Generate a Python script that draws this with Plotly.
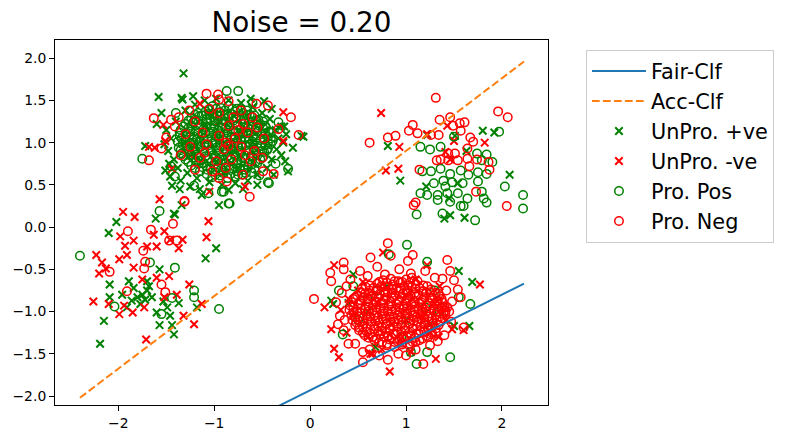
import plotly.graph_objects as go

# decision boundaries (end points)
fair_x = [-2.40, 2.23]
fair_y = [-3.29, -0.67]
acc_x = [-2.40, 2.23]
acc_y = [-2.02, 1.96]

# UnPro. +ve  (green x)
unpro_pos = [
    # left cluster
    (-2.02, 0.06), (-2.10, -0.07), (-1.41, 0.15), (-1.61, 0.10), (-0.95, 0.26), (-0.98, -0.25),
    (-1.09, -0.37), (-1.57, -0.50), (-2.09, -0.68), (-1.89, -0.64), (-1.84, -0.72), (-1.75, -0.80),
    (-1.80, -0.83), (-1.70, -0.75), (-1.65, -0.83), (-2.09, -0.83), (-1.91, -0.95), (-1.60, -1.01),
    (-1.46, -1.05), (-1.57, -1.16), (-1.44, -1.16), (-1.42, -1.27), (-2.15, -1.11), (-2.19, -1.38),
    (-1.37, -0.90), (-1.18, -0.95), (-1.77, -0.91), (-1.86, -0.87), (-1.96, -0.80), (-1.49, -0.95),
    (-1.70, -0.64), (-1.72, -0.86), (-1.68, -0.70), (-1.53, -0.88),
    # top-left cluster
    (-1.40, 1.25), (-1.45, 1.05), (-1.48, 0.90), (-1.42, 0.80), (-1.38, 0.70), (-1.30, 1.38),
    (-1.20, 1.45), (-1.10, 1.50), (-0.98, 1.52), (-0.85, 1.50), (-0.72, 1.47), (-0.60, 1.42),
    (-0.50, 1.35), (-0.42, 1.28), (-0.36, 1.15), (-0.33, 1.05), (-0.35, 0.92), (-0.40, 0.80),
    (-0.45, 0.70), (-0.55, 0.62), (-0.65, 0.55), (-0.78, 0.52), (-0.92, 0.50), (-1.05, 0.53),
    (-1.18, 0.58), (-1.28, 0.64), (-1.50, 1.15), (-1.35, 0.55), (-1.25, 0.48), (-0.70, 0.45),
    (-0.30, 0.85), (-0.28, 1.00), (-0.25, 1.10), (-1.10, 1.20), (-0.95, 1.05), (-0.80, 0.90),
    (-0.70, 1.10), (-1.20, 0.95), (-1.00, 0.80), (-0.85, 1.25), (-0.60, 1.00), (-1.30, 1.00),
    (-0.75, 0.70), (-1.05, 1.35), (-0.90, 0.65), (-1.32, 1.82), (-1.58, 1.54), (-1.34, 1.53),
    (-0.48, 1.49), (-0.18, 0.94), (-0.07, 1.07), (-0.27, 1.19), (-1.51, 0.67), (-1.44, 0.49),
    (-1.13, 0.38), (-1.42, 0.16), (-0.23, 0.66), (-1.72, 0.96), (-1.60, 1.22), (-1.33, 1.51),
    (-0.30, 1.19), (-0.09, 1.08), (-1.34, 0.26), (-1.55, 1.35), (-1.46, 0.60), (-1.52, 0.98),
    (-1.47, 0.75), (-1.36, 0.45), (-1.15, 0.45), (-0.85, 0.44), (-0.55, 0.50), (-0.38, 0.62),
    (-0.26, 0.78), (-0.40, 1.40), (-0.62, 1.52), (-1.22, 1.55),
    # top-right cluster
    (0.81, 0.96), (0.94, 0.55), (1.80, 1.14), (1.22, 1.09), (1.51, 1.08), (1.21, 0.48),
    (1.45, 0.34), (1.46, 0.14), (1.61, 0.11), (2.08, 0.62), (1.63, 0.90), (1.54, 0.52),
    (1.92, 1.12), (1.40, 0.10),
    # bottom-right cluster
    (1.55, -0.52), (1.69, -0.65), (1.66, -1.17), (1.50, -1.17), (0.22, -0.87), (0.24, -0.91),
    (0.68, -1.42), (0.45, -0.56), (0.60, -1.00), (1.00, -1.10), (0.80, -0.70), (1.25, -1.15),
    (0.40, -0.90),
]

# UnPro. -ve  (red x)
unpro_neg = [
    # left cluster
    (-1.57, 0.33), (-1.95, 0.18), (-1.83, 0.12), (-1.06, 0.07), (-1.98, -0.11), (-1.84, -0.16),
    (-1.93, -0.22), (-1.91, -0.33), (-1.99, -0.38), (-2.23, -0.33), (-2.17, -0.42), (-2.13, -0.49),
    (-2.20, -0.55), (-1.84, -0.48), (-1.70, -0.23), (-1.60, -0.23), (-1.52, -0.05), (-1.46, -0.15),
    (-1.37, -0.25), (-1.33, -0.15), (-1.63, -0.09), (-1.08, -0.12), (-1.75, -0.62), (-1.60, -0.60),
    (-1.47, -0.58), (-1.26, -0.68), (-1.39, -0.80), (-2.26, -0.88), (-2.10, -0.91), (-1.99, -1.03),
    (-1.85, -1.01), (-1.73, -0.95), (-1.94, -0.93), (-1.32, -1.05), (-1.21, -1.15), (-1.71, -1.33),
    (-1.13, -0.91), (-1.52, -0.83),
    # top-left cluster
    (-1.68, 0.95), (-1.51, 1.02), (-1.05, 0.42), (-0.28, 1.36), (-0.28, 1.02), (-1.15, 1.46),
    (-1.44, 0.69), (-0.68, 0.48), (-1.62, 0.94), (-1.53, 1.21), (-0.95, 1.25), (-0.60, 0.95),
    (-1.25, 0.85),
    # top-right cluster
    (0.74, 1.35), (0.93, 0.95), (0.79, 0.67), (0.92, 0.69), (1.22, 1.10), (1.43, 1.20),
    (1.50, 1.02), (1.82, 1.00), (1.41, 0.89), (1.46, 0.80),
    # bottom-right cluster
    (0.25, -0.45), (0.15, -0.95), (0.22, -1.21), (0.25, -1.44), (0.30, -1.54), (1.77, -0.68),
    (0.76, -0.30), (1.22, -0.45), (0.83, -1.71), (1.60, -1.22), (1.31, -1.56), (0.63, -1.50),
    (1.48, -1.21), (1.34, -1.30), (0.50, -0.75), (0.60, -1.30), (0.70, -0.90), (0.85, -1.15),
    (1.00, -0.80), (1.15, -1.05), (1.30, -0.90), (1.25, -1.25), (0.45, -1.05), (0.55, -0.65),
    (0.95, -1.38), (1.10, -0.62), (0.75, -1.45), (1.35, -0.70), (0.40, -0.85), (0.32, -0.98),
    (0.38, -1.25), (1.42, -1.10), (0.65, -1.50), (1.05, -1.48),
]

# Pro. Pos  (green circles)
pro_pos = [
    # left cluster
    (-2.40, -0.34), (-1.57, 0.19), (-0.84, 0.28), (-1.41, -0.48), (-1.21, -0.75), (-1.21, -0.83),
    (-0.95, -0.97), (-2.04, -0.94), (-1.44, -0.84), (-1.55, -1.03), (-1.67, -0.42),
    # top-left cluster
    (-1.02, 1.43), (-0.93, 1.41), (-0.85, 1.44), (-0.76, 1.40),
    (-1.17, 1.35), (-1.09, 1.37), (-1.01, 1.34), (-0.94, 1.36), (-0.86, 1.33), (-0.78, 1.37),
    (-0.70, 1.35), (-0.63, 1.33),
    (-1.24, 1.29), (-1.16, 1.31), (-1.08, 1.28), (-1.00, 1.30), (-0.92, 1.27), (-0.85, 1.31),
    (-0.77, 1.29), (-0.69, 1.28), (-0.61, 1.31), (-0.54, 1.27),
    (-1.30, 1.22), (-1.22, 1.24), (-1.15, 1.21), (-1.07, 1.23), (-0.99, 1.25), (-0.91, 1.22),
    (-0.84, 1.24), (-0.76, 1.21), (-0.68, 1.23), (-0.60, 1.25), (-0.52, 1.22), (-0.47, 1.20),
    (-1.35, 1.15), (-1.27, 1.17), (-1.19, 1.14), (-1.11, 1.16), (-1.03, 1.18), (-0.96, 1.15),
    (-0.88, 1.17), (-0.80, 1.14), (-0.72, 1.16), (-0.65, 1.18), (-0.57, 1.15), (-0.49, 1.17),
    (-0.43, 1.13),
    (-1.36, 1.08), (-1.29, 1.10), (-1.21, 1.07), (-1.13, 1.09), (-1.05, 1.11), (-0.98, 1.08),
    (-0.90, 1.10), (-0.82, 1.07), (-0.74, 1.09), (-0.66, 1.11), (-0.59, 1.08), (-0.51, 1.10),
    (-0.44, 1.07),
    (-1.38, 1.01), (-1.30, 1.03), (-1.22, 1.00), (-1.15, 1.02), (-1.07, 1.04), (-0.99, 1.01),
    (-0.91, 1.03), (-0.83, 1.00), (-0.76, 1.02), (-0.68, 1.04), (-0.60, 1.01), (-0.52, 1.03),
    (-0.44, 1.00), (-0.39, 1.02),
    (-1.37, 0.94), (-1.29, 0.96), (-1.21, 0.93), (-1.14, 0.95), (-1.06, 0.97), (-0.98, 0.94),
    (-0.90, 0.96), (-0.83, 0.93), (-0.75, 0.95), (-0.67, 0.97), (-0.59, 0.94), (-0.51, 0.96),
    (-0.44, 0.93),
    (-1.34, 0.87), (-1.26, 0.89), (-1.18, 0.86), (-1.10, 0.88), (-1.03, 0.90), (-0.95, 0.87),
    (-0.87, 0.89), (-0.79, 0.86), (-0.72, 0.88), (-0.64, 0.90), (-0.56, 0.87), (-0.48, 0.89),
    (-1.30, 0.80), (-1.22, 0.82), (-1.14, 0.79), (-1.07, 0.81), (-0.99, 0.83), (-0.91, 0.80),
    (-0.83, 0.82), (-0.76, 0.79), (-0.68, 0.81), (-0.60, 0.83), (-0.52, 0.80),
    (-1.24, 0.73), (-1.16, 0.75), (-1.08, 0.72), (-1.00, 0.74), (-0.93, 0.76), (-0.85, 0.73),
    (-0.77, 0.75), (-0.69, 0.72), (-0.61, 0.74), (-0.55, 0.76),
    (-1.15, 0.66), (-1.07, 0.68), (-0.99, 0.65), (-0.91, 0.67), (-0.84, 0.69), (-0.76, 0.66),
    (-0.68, 0.68), (-0.61, 0.65),
    (-1.02, 0.59), (-0.94, 0.61), (-0.86, 0.58), (-0.78, 0.60), (-0.71, 0.62),
    (-1.06, 1.39), (-0.98, 1.40), (-0.89, 1.38), (-0.81, 1.40), (-0.72, 1.39), (-0.66, 1.38),
    (-1.20, 1.33), (-1.13, 1.32), (-1.05, 1.34), (-0.97, 1.32), (-0.89, 1.33), (-0.82, 1.34),
    (-0.74, 1.32), (-0.66, 1.33), (-0.58, 1.32),
    (-1.27, 1.26), (-1.20, 1.27), (-1.12, 1.25), (-1.04, 1.26), (-0.96, 1.27), (-0.88, 1.25),
    (-0.80, 1.26), (-0.72, 1.27), (-0.64, 1.25), (-0.56, 1.26), (-0.49, 1.25),
    (-1.32, 1.19), (-1.24, 1.20), (-1.16, 1.18), (-1.08, 1.19), (-1.00, 1.20), (-0.92, 1.18),
    (-0.84, 1.19), (-0.76, 1.20), (-0.68, 1.18), (-0.61, 1.19), (-0.53, 1.20), (-0.46, 1.18),
    (-1.36, 1.12), (-1.25, 1.13), (-1.17, 1.11), (-1.09, 1.12), (-1.01, 1.13), (-0.94, 1.11),
    (-0.86, 1.12), (-0.78, 1.13), (-0.70, 1.11), (-0.62, 1.12), (-0.55, 1.13), (-0.47, 1.11),
    (-0.41, 1.12),
    (-1.34, 1.05), (-1.26, 1.06), (-1.18, 1.04), (-1.11, 1.05), (-1.03, 1.06), (-0.95, 1.04),
    (-0.87, 1.05), (-0.79, 1.06), (-0.72, 1.04), (-0.64, 1.05), (-0.56, 1.06), (-0.48, 1.04),
    (-0.41, 1.05),
    (-1.33, 0.98), (-1.25, 0.99), (-1.17, 0.97), (-1.10, 0.98), (-1.02, 0.99), (-0.94, 0.97),
    (-0.86, 0.98), (-0.79, 0.99), (-0.71, 0.97), (-0.63, 0.98), (-0.55, 0.99), (-0.47, 0.97),
    (-0.41, 0.98),
    (-1.35, 0.91), (-1.28, 0.92), (-1.20, 0.90), (-1.12, 0.91), (-1.04, 0.92), (-0.97, 0.90),
    (-0.89, 0.91), (-0.81, 0.92), (-0.73, 0.90), (-0.66, 0.91), (-0.58, 0.92), (-0.50, 0.90),
    (-0.45, 0.91),
    (-1.32, 0.84), (-1.25, 0.85), (-1.17, 0.83), (-1.09, 0.84), (-1.01, 0.85), (-0.93, 0.83),
    (-0.86, 0.84), (-0.78, 0.85), (-0.70, 0.83), (-0.62, 0.84), (-0.55, 0.85), (-0.49, 0.83),
    (-1.27, 0.77), (-1.19, 0.78), (-1.11, 0.76), (-1.03, 0.77), (-0.96, 0.78), (-0.88, 0.76),
    (-0.80, 0.77), (-0.72, 0.78), (-0.64, 0.76), (-0.57, 0.77),
    (-1.20, 0.70), (-1.12, 0.71), (-1.04, 0.69), (-0.96, 0.70), (-0.88, 0.71), (-0.80, 0.69),
    (-0.73, 0.70), (-0.65, 0.71), (-0.58, 0.69),
    (-1.08, 0.63), (-0.99, 0.62), (-0.91, 0.64), (-0.83, 0.63), (-0.75, 0.62), (-0.67, 0.64),
    (-1.75, 0.81), (-0.75, 1.61), (-0.87, 1.61), (-1.06, 0.40), (-0.90, 0.42), (-0.85, 0.28),
    (-0.43, 0.52), (-0.53, 0.61), (-1.21, 0.49), (-1.41, 0.60), (-0.33, 1.24), (-0.23, 0.69),
    (-0.44, 0.53), (-0.92, 0.42), (-1.40, 1.35), (-1.45, 0.72), (-0.36, 0.75), (-0.60, 1.47),
    # top-right cluster
    (1.15, 0.95), (1.25, 0.92), (1.36, 0.95), (1.50, 1.07), (1.97, 1.13), (1.84, 0.86),
    (1.79, 0.79), (1.90, 0.77), (1.17, 0.66), (1.26, 0.66), (1.36, 0.69), (1.46, 0.63),
    (1.57, 0.67), (1.65, 0.62), (1.75, 0.65), (1.84, 0.63), (1.29, 0.52), (1.39, 0.55),
    (1.48, 0.53), (1.59, 0.52), (1.75, 0.54), (1.15, 0.40), (1.22, 0.38), (1.33, 0.38),
    (1.43, 0.40), (1.54, 0.40), (1.64, 0.34), (1.81, 0.34), (1.84, 0.29), (1.33, 0.32),
    (1.46, 0.30), (1.57, 0.25), (1.60, 0.25), (2.03, 0.48), (2.22, 0.38), (2.22, 0.22),
    (1.38, 0.16), (1.11, 0.15), (1.72, 0.08), (1.74, 0.87), (1.41, 0.48), (1.79, 0.42),
    # bottom-right cluster
    (1.01, -0.21), (0.82, -0.32), (1.22, -0.41), (1.46, -1.54), (1.11, -1.62), (1.67, -0.91),
    (1.55, -0.83), (0.34, -1.27), (1.05, -1.48), (0.30, -0.75), (1.22, -1.48), (0.50, -1.10),
    (0.70, -0.75), (1.20, -0.95), (0.95, -1.30), (0.60, -0.85), (1.35, -1.00), (0.45, -0.70),
    (1.30, -0.75),
]

# Pro. Neg  (red circles)
pro_neg = [
    # left cluster
    (-1.90, -0.05), (-1.43, 0.04), (-1.31, 0.30), (-1.66, -0.03), (-1.74, -0.28), (-1.72, -0.41),
    (-1.73, -0.49), (-2.09, -0.53), (-1.39, -0.16), (-1.91, -0.76), (-1.51, -0.77), (-1.55, -0.68),
    (-1.47, -0.16),
    # top-left cluster
    (-1.05, 1.40), (-0.95, 1.35), (-0.72, 1.38), (-0.60, 1.30), (-1.20, 1.25), (-0.85, 1.20),
    (-0.70, 1.22), (-0.55, 1.18), (-1.30, 1.10), (-1.12, 1.12), (-0.95, 1.08), (-0.78, 1.05),
    (-0.65, 1.12), (-0.48, 1.05), (-1.25, 0.95), (-1.08, 0.98), (-0.90, 0.92), (-0.72, 0.95),
    (-0.58, 0.90), (-1.35, 0.85), (-1.15, 0.82), (-0.98, 0.78), (-0.82, 0.80), (-0.62, 0.78),
    (-0.50, 0.82), (-1.20, 0.68), (-1.02, 0.66), (-0.88, 0.70), (-0.70, 0.62), (-0.95, 0.58),
    (-1.10, 0.88), (-0.80, 1.30), (-0.68, 0.85), (-0.75, 1.15), (-0.88, 1.00), (-0.85, 0.96),
    (-1.63, 1.29), (-1.08, 1.58), (-0.96, 1.57), (-0.95, 1.51), (-1.26, 1.38), (-1.37, 1.30),
    (-1.41, 1.19), (-0.44, 1.44), (-0.20, 1.30), (-0.12, 1.09), (-0.85, 1.49), (-0.56, 1.46),
    (-0.33, 1.16), (-0.63, 0.36), (-0.38, 0.63), (-0.49, 0.66), (-0.87, 0.54), (-1.31, 0.31),
    (-1.68, 0.79), (-1.55, 0.93), (-1.50, 1.06), (-1.45, 1.27),
    # top-right cluster
    (1.31, 1.53), (0.62, 1.00), (0.81, 1.06), (0.89, 1.08), (1.03, 1.14), (1.07, 1.21),
    (1.12, 1.11), (1.26, 1.09), (1.34, 1.09), (1.35, 1.27), (1.46, 1.30), (1.49, 1.20),
    (1.56, 1.23), (1.61, 1.24), (1.57, 1.14), (1.96, 1.37), (2.06, 1.30), (1.67, 1.06),
    (1.70, 1.01), (1.64, 0.93), (1.44, 0.87), (1.51, 0.87), (1.32, 0.79), (1.36, 0.80),
    (1.44, 0.79), (1.54, 0.79), (1.66, 0.72), (1.74, 0.80), (1.86, 0.77), (1.87, 0.68),
    (1.14, 0.68), (1.73, 0.42), (1.10, 0.29), (1.08, 0.26), (2.05, 0.25), (1.64, 0.81),
    # bottom-right cluster, outer part
    (0.81, -0.19), (1.07, -0.33), (1.43, -0.39), (1.46, -0.52), (1.38, -0.61), (1.50, -0.63),
    (0.04, -0.85), (0.21, -0.54), (0.22, -0.64), (0.35, -0.42), (0.63, -0.36), (0.84, -0.34),
    (1.18, -1.62), (1.60, -1.19), (1.57, -0.83), (0.29, -1.15), (0.40, -1.38), (0.55, -1.60),
    (0.81, -1.57), (1.54, -0.74), (1.43, -0.95), (0.27, -0.89), (0.35, -0.50), (1.02, -0.40),
    (0.52, -0.52), (0.70, -0.47), (0.93, -0.50), (1.20, -0.52), (1.30, -0.60), (0.42, -0.62),
    (0.33, -0.78), (0.31, -1.05), (0.35, -1.22), (0.47, -1.38), (0.62, -1.45), (0.72, -1.52),
    (0.92, -1.50), (1.10, -1.45), (1.25, -1.40), (1.40, -1.28), (1.47, -1.12), (1.48, -0.88),
    (0.60, -0.58), (0.78, -0.56), (1.05, -0.55), (0.38, -0.70), (0.36, -1.10), (0.55, -1.48),
    (1.00, -1.52), (1.33, -1.35), (1.45, -1.00), (1.42, -0.75),
    # bottom-right cluster, dense core
    (0.76, -0.63), (0.84, -0.61), (0.92, -0.64), (1.00, -0.62), (1.06, -0.60),
    (0.62, -0.69), (0.70, -0.67), (0.78, -0.70), (0.86, -0.68), (0.94, -0.66), (1.02, -0.69),
    (1.10, -0.67), (1.18, -0.69),
    (0.54, -0.73), (0.62, -0.75), (0.70, -0.73), (0.78, -0.76), (0.86, -0.74), (0.94, -0.72),
    (1.02, -0.75), (1.10, -0.73), (1.18, -0.76), (1.26, -0.74),
    (0.49, -0.81), (0.57, -0.79), (0.65, -0.82), (0.73, -0.80), (0.81, -0.78), (0.89, -0.81),
    (0.97, -0.79), (1.05, -0.82), (1.13, -0.80), (1.21, -0.78), (1.29, -0.81), (1.34, -0.79),
    (0.45, -0.85), (0.53, -0.87), (0.61, -0.85), (0.69, -0.88), (0.77, -0.86), (0.85, -0.84),
    (0.93, -0.87), (1.01, -0.85), (1.09, -0.88), (1.17, -0.86), (1.25, -0.84), (1.33, -0.87),
    (1.37, -0.85),
    (0.42, -0.93), (0.50, -0.91), (0.58, -0.94), (0.66, -0.92), (0.74, -0.90), (0.82, -0.93),
    (0.90, -0.91), (0.98, -0.94), (1.06, -0.92), (1.14, -0.90), (1.22, -0.93), (1.30, -0.91),
    (1.38, -0.94),
    (0.41, -0.98), (0.49, -1.00), (0.57, -0.97), (0.65, -0.99), (0.73, -0.97), (0.81, -1.00),
    (0.89, -0.98), (0.97, -0.96), (1.05, -0.99), (1.13, -0.97), (1.21, -1.00), (1.29, -0.98),
    (1.37, -0.96), (1.41, -0.99),
    (0.43, -1.04), (0.51, -1.06), (0.59, -1.03), (0.67, -1.05), (0.75, -1.03), (0.83, -1.06),
    (0.91, -1.04), (0.99, -1.02), (1.07, -1.05), (1.15, -1.03), (1.23, -1.06), (1.31, -1.04),
    (1.39, -1.02),
    (0.44, -1.10), (0.52, -1.12), (0.60, -1.09), (0.68, -1.11), (0.76, -1.09), (0.84, -1.12),
    (0.92, -1.10), (1.00, -1.08), (1.08, -1.11), (1.16, -1.09), (1.24, -1.12), (1.32, -1.10),
    (1.38, -1.08),
    (0.47, -1.16), (0.55, -1.18), (0.63, -1.15), (0.71, -1.17), (0.79, -1.15), (0.87, -1.18),
    (0.95, -1.16), (1.03, -1.14), (1.11, -1.17), (1.19, -1.15), (1.27, -1.18), (1.34, -1.16),
    (0.51, -1.22), (0.59, -1.24), (0.67, -1.21), (0.75, -1.23), (0.83, -1.21), (0.91, -1.24),
    (0.99, -1.22), (1.07, -1.20), (1.15, -1.23), (1.23, -1.21), (1.31, -1.24),
    (0.57, -1.28), (0.65, -1.30), (0.73, -1.27), (0.81, -1.29), (0.89, -1.27), (0.97, -1.30),
    (1.05, -1.28), (1.13, -1.26), (1.21, -1.29), (1.26, -1.27),
    (0.67, -1.34), (0.75, -1.36), (0.83, -1.33), (0.91, -1.35), (0.99, -1.33), (1.07, -1.36),
    (1.14, -1.34),
    (0.80, -1.40), (0.88, -1.42), (0.96, -1.39), (1.04, -1.41),
    (0.72, -0.65), (0.80, -0.66), (0.88, -0.64), (0.96, -0.65), (1.04, -0.66), (1.12, -0.64),
    (0.58, -0.71), (0.66, -0.72), (0.74, -0.70), (0.82, -0.71), (0.90, -0.72), (0.98, -0.70),
    (1.06, -0.71), (1.14, -0.72), (1.22, -0.70),
    (0.53, -0.77), (0.61, -0.78), (0.69, -0.76), (0.77, -0.77), (0.85, -0.78), (0.93, -0.76),
    (1.01, -0.77), (1.09, -0.78), (1.17, -0.76), (1.25, -0.77), (1.31, -0.78),
    (0.47, -0.83), (0.55, -0.84), (0.63, -0.82), (0.71, -0.83), (0.79, -0.84), (0.87, -0.82),
    (0.95, -0.83), (1.03, -0.84), (1.11, -0.82), (1.19, -0.83), (1.27, -0.84), (1.35, -0.82),
    (0.44, -0.89), (0.52, -0.90), (0.60, -0.88), (0.68, -0.89), (0.76, -0.90), (0.84, -0.88),
    (0.92, -0.89), (1.00, -0.90), (1.08, -0.88), (1.16, -0.89), (1.24, -0.90), (1.32, -0.88),
    (1.38, -0.89),
    (0.45, -0.95), (0.53, -0.96), (0.61, -0.94), (0.69, -0.95), (0.77, -0.96), (0.85, -0.94),
    (0.93, -0.95), (1.01, -0.96), (1.09, -0.94), (1.17, -0.95), (1.25, -0.96), (1.33, -0.94),
    (1.40, -0.95),
    (0.45, -1.01), (0.53, -1.02), (0.61, -1.00), (0.69, -1.01), (0.77, -1.02), (0.85, -1.00),
    (0.93, -1.01), (1.01, -1.02), (1.09, -1.00), (1.17, -1.01), (1.25, -1.02), (1.33, -1.00),
    (1.41, -1.01),
    (0.47, -1.07), (0.55, -1.08), (0.63, -1.06), (0.71, -1.07), (0.79, -1.08), (0.87, -1.06),
    (0.95, -1.07), (1.03, -1.08), (1.11, -1.06), (1.19, -1.07), (1.27, -1.08), (1.35, -1.06),
    (0.48, -1.13), (0.56, -1.14), (0.64, -1.12), (0.72, -1.13), (0.80, -1.14), (0.88, -1.12),
    (0.96, -1.13), (1.04, -1.14), (1.12, -1.12), (1.20, -1.13), (1.28, -1.14), (1.36, -1.12),
    (0.51, -1.19), (0.59, -1.20), (0.67, -1.18), (0.75, -1.19), (0.83, -1.20), (0.91, -1.18),
    (0.99, -1.19), (1.07, -1.20), (1.15, -1.18), (1.23, -1.19), (1.31, -1.20),
    (0.55, -1.25), (0.63, -1.26), (0.71, -1.24), (0.79, -1.25), (0.87, -1.26), (0.95, -1.24),
    (1.03, -1.25), (1.11, -1.26), (1.19, -1.24), (1.27, -1.25),
    (0.61, -1.31), (0.69, -1.32), (0.77, -1.30), (0.85, -1.31), (0.93, -1.32), (1.01, -1.30),
    (1.09, -1.31), (1.17, -1.32), (1.23, -1.30),
    (0.72, -1.37), (0.80, -1.38), (0.88, -1.36), (0.96, -1.37), (1.04, -1.38), (1.10, -1.36),
]

x_tickvals = [-2, -1, 0, 1, 2]
x_ticktext = ["\u22122", "\u22121", "0", "1", "2"]
y_tickvals = [-2.0, -1.5, -1.0, -0.5, 0.0, 0.5, 1.0, 1.5, 2.0]
y_ticktext = ["\u22122.0", "\u22121.5", "\u22121.0", "\u22120.5", "0.0", "0.5", "1.0", "1.5", "2.0"]

font = "DejaVu Sans"


def cols(pts):
    return [p[0] for p in pts], [p[1] for p in pts]


fig = go.Figure()

# scatter first so the two lines are drawn on top, legend order fixed with legendrank
for name, pts, sym, col, lw, size, rank in [
    ("UnPro. +ve", unpro_pos, "x-thin", "green", 2.0, 7.5, 3),
    ("UnPro. -ve", unpro_neg, "x-thin", "red", 2.0, 7.5, 4),
    ("Pro. Pos", pro_pos, "circle-open", "green", 1.5, 8.5, 5),
    ("Pro. Neg", pro_neg, "circle-open", "red", 1.5, 8.5, 6),
]:
    xs, ys = cols(pts)
    fig.add_trace(go.Scatter(
        x=xs, y=ys, mode="markers", name=name, legendrank=rank,
        marker=dict(symbol=sym, size=size, color=col, line=dict(color=col, width=lw)),
    ))

fig.add_trace(go.Scatter(x=fair_x, y=fair_y, mode="lines", name="Fair-Clf", legendrank=1,
                         line=dict(color="#1f77b4", width=2)))
fig.add_trace(go.Scatter(x=acc_x, y=acc_y, mode="lines", name="Acc-Clf", legendrank=2,
                         line=dict(color="#ff7f0e", width=2, dash="7.7px,3.3px")))

axis_style = dict(showgrid=False, zeroline=False, showline=True, linecolor="black", linewidth=1,
                  mirror=True, ticks="outside", ticklen=5, tickwidth=1, tickcolor="black",
                  tickfont=dict(family=font, size=13.9, color="black"))

fig.update_xaxes(range=[-2.66, 2.48], tickvals=x_tickvals, ticktext=x_ticktext, **axis_style)
fig.update_yaxes(range=[-2.106, 2.215], tickvals=y_tickvals, ticktext=y_ticktext, **axis_style)

fig.update_layout(
    width=787, height=443,
    margin=dict(l=53, r=239, t=40, b=35),
    paper_bgcolor="white", plot_bgcolor="white",
    font=dict(family=font, color="black"),
    title=dict(text="Noise = 0.20", x=0.5, xref="paper", xanchor="center",
               y=1 - 22 / 443, yref="container", yanchor="middle",
               font=dict(family=font, size=27.8, color="black")),
    legend=dict(x=1.077, y=0.973, xanchor="left", yanchor="top", itemwidth=54,
                font=dict(family=font, size=20.8, color="black"),
                bordercolor="#cccccc", borderwidth=1, bgcolor="white"),
    showlegend=True,
)

# drop the browser's default page margin so the figure sits at the window corner
fig.write_html("out.html", config={"displayModeBar": False},
               post_script="document.body.style.margin='0';")
